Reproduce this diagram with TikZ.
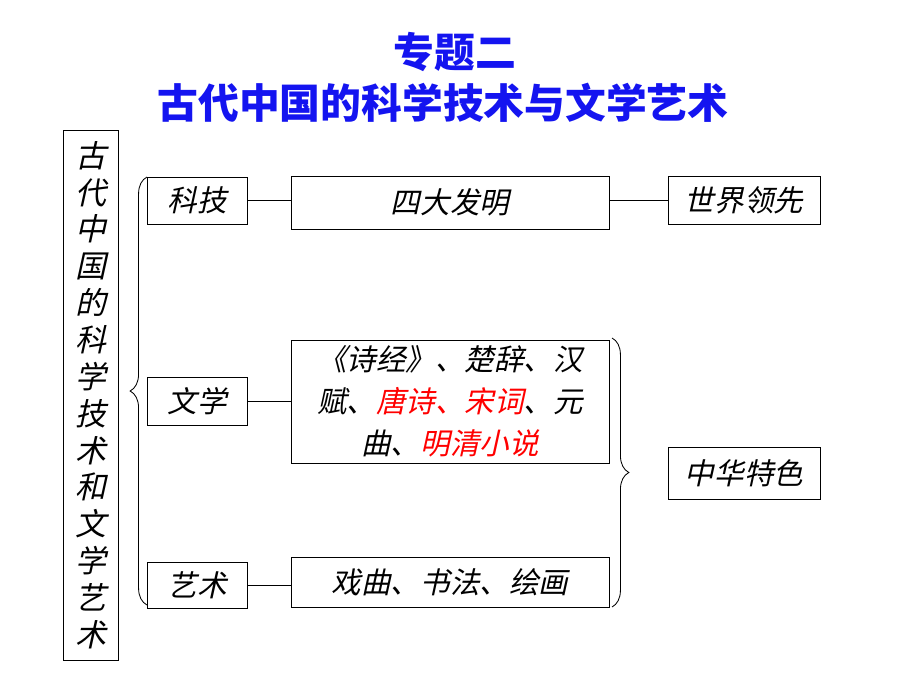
\documentclass[tikz,border=0pt]{standalone}
\usepackage{fontspec}
\setmainfont{Noto Sans CJK SC}
\newfontfamily\cjkit[FakeSlant=0.22]{Noto Sans CJK SC}
\usetikzlibrary{decorations.pathreplacing}
\definecolor{tblue}{RGB}{20,20,240}
\begin{document}
\begin{tikzpicture}[x=0.025cm,y=-0.025cm,
  box/.style={draw,line width=0.6pt,inner sep=0pt,font=\cjkit\fontsize{21}{30}\selectfont},
  ln/.style={line width=0.6pt},
  br/.style={ln,decorate,decoration={brace,amplitude=12pt}}]
\useasboundingbox (0,0) rectangle (920,690);
\node[font=\bfseries\fontsize{29}{36}\selectfont,text=tblue] (t1) at (455,52) {专题二};
\node[font=\bfseries\fontsize{29}{36}\selectfont,text=tblue] (t2) at (443,103) {古代中国的科学技术与文学艺术};
\node[draw,ln,minimum width=55\pgflinewidth,inner sep=0pt] (L) at (90.5,395) [minimum width=1.375cm,minimum height=13.25cm] {};
\node[font=\cjkit\fontsize{22}{26.2}\selectfont,align=center] (Lt) at (90.5,395) {古\\代\\中\\国\\的\\科\\学\\技\\术\\和\\文\\学\\艺\\术};
\node[box,minimum width=2.5cm,minimum height=1.175cm] (kj) at (197,200.5) {科技};
\node[box,minimum width=2.5cm,minimum height=1.2cm] (wx) at (197,401) {文学};
\node[box,minimum width=2.5cm,minimum height=1.15cm] (ys) at (197,585) {艺术};
\node[box,minimum width=7.95cm,minimum height=1.325cm] (sd) at (450,202.5) {四大发明};
\node[box,minimum width=3.8cm,minimum height=1.2cm] (sj) at (744,200) {世界领先};
\node[box,minimum width=7.95cm,minimum height=3.075cm,align=center] (lit) at (450,401.5) {《诗经》、楚辞、汉\\赋、\textcolor{red}{唐诗、宋词}、元\\曲、\textcolor{red}{明清小说}};
\node[box,minimum width=7.95cm,minimum height=1.25cm] (xq) at (450,582) {戏曲、书法、绘画};
\node[box,minimum width=3.8cm,minimum height=1.3cm] (zh) at (744,473) {中华特色};
\draw[ln] (kj.east) -- (sd.west|-kj.east);
\draw[ln] (sd.east|-sj.west) -- (sj.west);
\draw[ln] (wx.east) -- (lit.west|-wx.east);
\draw[ln] (ys.east) -- (xq.west|-ys.east);
\coordinate (b1) at (147,177); \coordinate (b2) at (147,605);
\draw[br] (b2) -- (b1);
\coordinate (c1) at (612,338); \coordinate (c2) at (612,607);
\draw[br] (c1) -- (c2);
\end{tikzpicture}
\end{document}
